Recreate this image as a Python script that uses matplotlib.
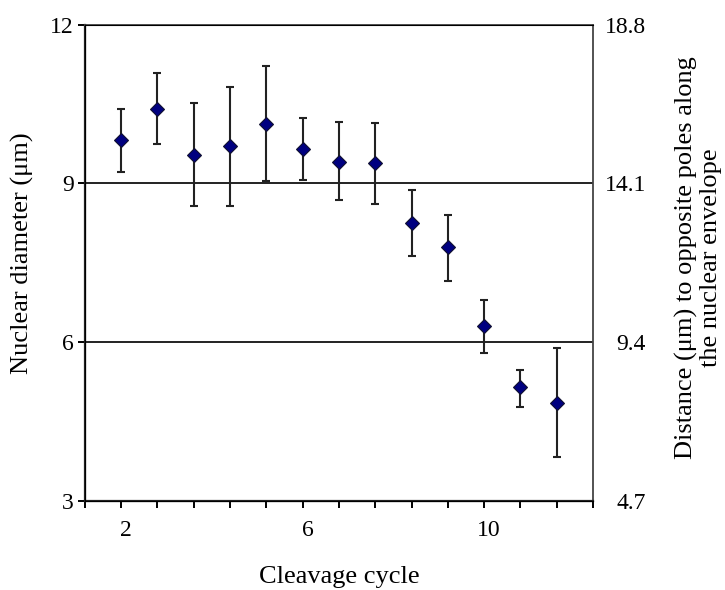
import matplotlib
matplotlib.use('Agg')
import matplotlib.pyplot as plt
import matplotlib.transforms as mtransforms
import numpy as np

# cleavage cycle positions and nuclear diameter (um)
cycle = [2.0, 2.8, 3.6, 4.4, 5.2, 6.0, 6.8, 7.6, 8.4, 9.2, 10.0, 10.8, 11.6]
diameter = [9.83, 10.41, 9.53, 9.71, 10.12, 9.65, 9.41, 9.39, 8.26, 7.80, 6.30, 5.15, 4.86]
err_top = [10.41, 11.09, 10.53, 10.83, 11.22, 10.24, 10.17, 10.14, 8.88, 8.41, 6.80, 5.47, 5.89]
err_bottom = [9.21, 9.74, 8.57, 8.57, 9.04, 9.07, 8.68, 8.62, 7.62, 7.15, 5.79, 4.78, 3.83]

left_ticks = [3, 6, 9, 12]
right_labels = ['4.7', '9.4', '14.1', '18.8']
x_label_pos = [2, 6, 10]
x_labels = ['2', '6', '10']

plt.rcParams['font.family'] = ['Liberation Serif', 'DejaVu Serif']

fig = plt.figure(figsize=(7.25, 5.9), dpi=100)
ax = fig.add_axes([0.117, 0.151, 0.701, 0.807])

d = np.array(diameter)
yerr = [d - np.array(err_bottom), np.array(err_top) - d]
ax.errorbar(cycle, diameter, yerr=yerr, fmt='none', ecolor='#222222',
            elinewidth=1.5, capsize=2.7, capthick=1.5, zorder=2)
ax.plot(cycle, diameter, 'D', color='#000080', markeredgecolor='#101030',
        markeredgewidth=0.8, markersize=7.5, zorder=3)

for g in [6, 9]:
    ax.axhline(g, color='#222222', lw=1.4, zorder=1)

ax.set_xlim(1.2, 12.4)
ax.set_ylim(3, 12)
ax.set_yticks(left_ticks)
ax.set_yticklabels([str(t) for t in left_ticks])

# ticks at every cycle position, labels only on some
xt = np.arange(1.2, 12.41, 0.8)
xl = []
for v in xt:
    lab = ''
    for p, s in zip(x_label_pos, x_labels):
        if abs(v - p) < 0.01:
            lab = s
    xl.append(lab)
ax.set_xticks(xt)
ax.set_xticklabels(xl)
ax.tick_params(axis='x', length=5, width=1.4, direction='out', labelsize=17, pad=9)
ax.tick_params(axis='y', length=5, width=1.4, direction='out', labelsize=17, pad=3)
offset = mtransforms.ScaledTranslation(5 / 100, 0, fig.dpi_scale_trans)
for lab in ax.get_xticklabels():
    lab.set_transform(lab.get_transform() + offset)

for s in ['left', 'bottom']:
    ax.spines[s].set_linewidth(1.6)
    ax.spines[s].set_color('#222222')
for s in ['top', 'right']:
    ax.spines[s].set_linewidth(1.3)
    ax.spines[s].set_color('#444444')

ax.set_xlabel('Cleavage cycle', fontsize=19)
ax.xaxis.set_label_coords(0.5, -0.137)
ax.set_ylabel('Nuclear diameter (μm)', fontsize=19)
ax.yaxis.set_label_coords(-0.100, 0.52)

ax2 = ax.twinx()
ax2.set_ylim(3, 12)
ax2.set_yticks(left_ticks)
ax2.set_yticklabels(right_labels, ha='right')
ax2.tick_params(axis='y', length=0, labelsize=17, pad=38)
ax2.spines['right'].set_visible(False)
ax2.set_ylabel('Distance (μm) to opposite poles along\nthe nuclear envelope',
               fontsize=19, linespacing=1.12)
ax2.yaxis.set_label_coords(1.161, 0.51)

plt.savefig('out.png', dpi=100)
